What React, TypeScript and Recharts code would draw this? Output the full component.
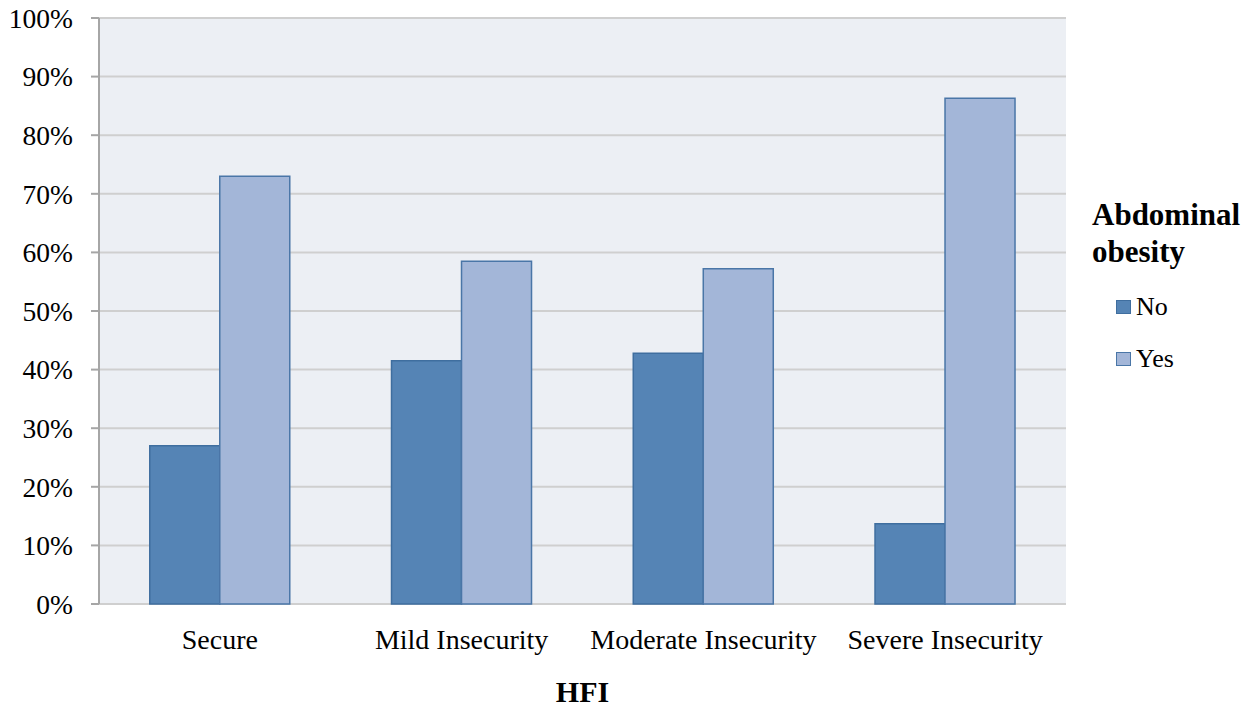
import { BarChart, Bar, XAxis, YAxis, CartesianGrid, Label } from "recharts";

const categories = ["Secure", "Mild Insecurity", "Moderate Insecurity", "Severe Insecurity"];
const noValues = [27.0, 41.5, 42.8, 13.7];
const yesValues = [73.0, 58.5, 57.2, 86.3];
const percentTicks = [0, 10, 20, 30, 40, 50, 60, 70, 80, 90, 100];
const edgeTicks = [0, 1, 2, 3, 4];

const series = [
  { key: "No", fill: "#5584b5", stroke: "#3f6e9f" },
  { key: "Yes", fill: "#a3b6d8", stroke: "#4a76a7" },
];

const data = categories.map((hfi, i) => ({ hfi, No: noValues[i], Yes: yesValues[i] }));

const serif = "'Liberation Serif', 'Times New Roman', serif";
const axisGray = "#a6a6a6";

export default function App() {
  return (
    <div style={{ position: "relative", width: 1259, height: 710, fontFamily: serif }}>
      <style>{`body { margin: 0; }`}</style>
      <BarChart
        width={1259}
        height={710}
        data={data}
        margin={{ top: 18, right: 193, left: 0, bottom: 0 }}
        barCategoryGap="21%"
        barGap={0}
      >
        <CartesianGrid
          vertical={false}
          fill="#eceff4"
          stroke="#cfcfcf"
          strokeWidth={2}
          yAxisId="pct"
          xAxisId="cat"
        />
        {/* tick marks on the category boundaries */}
        <XAxis
          xAxisId="edge"
          type="number"
          domain={[0, 4]}
          ticks={edgeTicks}
          allowDataOverflow
          height={0}
          tick={false}
          tickSize={8}
          tickLine={{ stroke: axisGray, strokeWidth: 2 }}
          axisLine={{ stroke: axisGray, strokeWidth: 2 }}
        />
        <XAxis
          xAxisId="cat"
          dataKey="hfi"
          height={106}
          axisLine={false}
          tickLine={false}
          tickSize={0}
          tickMargin={25}
          tick={{ fontSize: 28, fill: "#000", fontFamily: serif }}
        >
          <Label
            value="HFI"
            position="insideBottom"
            offset={8}
            style={{ fontSize: 30, fontWeight: "bold", fill: "#000", fontFamily: serif }}
          />
        </XAxis>
        <YAxis
          yAxisId="pct"
          width={99}
          domain={[0, 100]}
          ticks={percentTicks}
          interval={0}
          tickFormatter={(v) => `${v}%`}
          tickSize={8}
          tickMargin={18}
          tickLine={{ stroke: axisGray, strokeWidth: 2 }}
          axisLine={{ stroke: axisGray, strokeWidth: 2 }}
          tick={{ fontSize: 27.5, fill: "#000", fontFamily: serif }}
        />
        {series.map((s) => (
          <Bar
            key={s.key}
            dataKey={s.key}
            xAxisId="cat"
            yAxisId="pct"
            fill={s.fill}
            stroke={s.stroke}
            strokeWidth={1.5}
            isAnimationActive={false}
          />
        ))}
      </BarChart>

      <div style={{ position: "absolute", left: 1092, top: 196 }}>
        <div style={{ fontSize: 31, fontWeight: "bold", lineHeight: "37px", color: "#000" }}>
          Abdominal
          <br />
          obesity
        </div>
        <div style={{ marginTop: 11, marginLeft: 24 }}>
          {series.map((s) => (
            <div key={s.key} style={{ display: "flex", alignItems: "center", height: 52, fontSize: 26 }}>
              <span
                style={{
                  display: "inline-block",
                  width: 13,
                  height: 12,
                  background: s.fill,
                  border: `1.5px solid ${s.stroke}`,
                  marginRight: 5,
                }}
              />
              <span>{s.key}</span>
            </div>
          ))}
        </div>
      </div>
    </div>
  );
}
